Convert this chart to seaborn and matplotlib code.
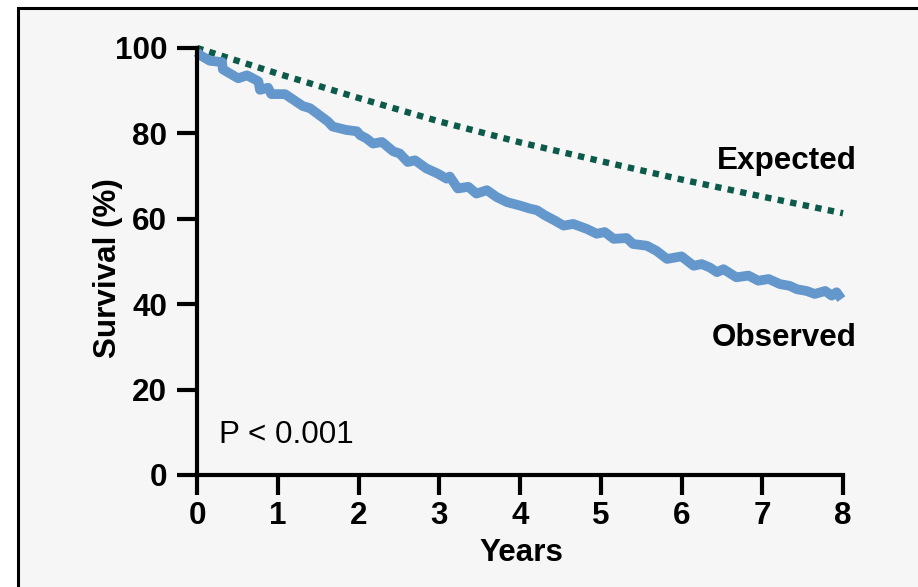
import matplotlib
matplotlib.use("Agg")
import matplotlib.pyplot as plt
import seaborn as sns
import pandas as pd
from matplotlib.patches import Rectangle

# ---- data ----
obs_years = [0.0, 0.04, 0.16, 0.31, 0.32, 0.51, 0.62, 0.76, 0.78, 0.88, 0.92, 1.09,
             1.31, 1.40, 1.62, 1.68, 1.85, 1.98, 2.02, 2.10, 2.18, 2.29, 2.43, 2.51,
             2.61, 2.70, 2.84, 2.98, 3.09, 3.13, 3.23, 3.36, 3.46, 3.59, 3.71, 3.84,
             4.00, 4.12, 4.21, 4.31, 4.43, 4.54, 4.66, 4.83, 4.95, 5.05, 5.16, 5.32,
             5.40, 5.57, 5.69, 5.82, 6.00, 6.15, 6.25, 6.35, 6.44, 6.52, 6.68, 6.83,
             6.95, 7.08, 7.22, 7.34, 7.43, 7.55, 7.65, 7.78, 7.86, 7.92, 7.98]
obs_surv = [99.0, 98.3, 97.0, 96.7, 95.0, 92.9, 93.6, 92.2, 90.2, 90.7, 89.2, 89.2,
            86.4, 85.9, 82.8, 81.6, 80.8, 80.5, 79.6, 78.8, 77.6, 78.0, 75.8, 75.3,
            73.3, 73.7, 71.8, 70.6, 69.4, 69.9, 67.1, 67.5, 65.9, 66.7, 65.1, 63.9,
            63.1, 62.4, 62.0, 60.8, 59.6, 58.4, 58.8, 57.6, 56.5, 56.9, 55.3, 55.5,
            54.1, 53.7, 52.5, 50.6, 51.2, 49.0, 49.4, 48.6, 47.5, 48.2, 46.3, 46.7,
            45.5, 45.9, 44.7, 44.3, 43.5, 43.1, 42.4, 43.1, 42.0, 42.8, 41.2]

exp_years = [0, 1, 2, 3, 4, 5, 6, 7, 8]
exp_surv = [100.0, 94.0, 88.3, 82.8, 77.9, 73.5, 69.2, 65.2, 61.3]

x_ticks = [0, 1, 2, 3, 4, 5, 6, 7, 8]
y_ticks = [0, 20, 40, 60, 80, 100]

obs_df = pd.DataFrame({"Years": obs_years, "Survival": obs_surv})
exp_df = pd.DataFrame({"Years": exp_years, "Survival": exp_surv})

# ---- style ----
sns.set_style("ticks")
plt.rcParams["font.family"] = ["Liberation Sans", "DejaVu Sans"]
plt.rcParams["text.color"] = "black"
plt.rcParams["xtick.color"] = "black"
plt.rcParams["ytick.color"] = "black"
plt.rcParams["axes.labelcolor"] = "black"

FS = 22.6
W, H = 918, 587
fig = plt.figure(figsize=(W / 100, H / 100), dpi=100)
fig.patch.set_facecolor("white")
bg = "#f6f6f6"
fig.patches.append(Rectangle((18 / W, -0.1), 1.2, 1 - 8 / H + 0.1, transform=fig.transFigure,
                             facecolor=bg, edgecolor="black", linewidth=2.2, zorder=-10))

ax = fig.add_axes([197 / W, 1 - 475 / H, (843 - 197) / W, (475 - 48) / H])
ax.set_facecolor("none")

sns.lineplot(data=exp_df, x="Years", y="Survival", ax=ax, color="#0B5A4A",
             linewidth=4.6, linestyle=(0, (1, 1)), dash_capstyle="butt", clip_on=False)
sns.lineplot(data=obs_df, x="Years", y="Survival", ax=ax, color="#6497CC",
             linewidth=7.0, solid_joinstyle="round", solid_capstyle="butt", clip_on=False)

ax.set_xlim(0, 8)
ax.set_ylim(0, 100)
ax.set_xticks(x_ticks)
ax.set_yticks(y_ticks)
ax.set_xticklabels([str(v) for v in x_ticks], fontsize=FS, fontweight="bold", color="black")
ax.set_yticklabels([str(v) for v in y_ticks], fontsize=FS, fontweight="bold", color="black")
ax.tick_params(axis="both", length=14.5, width=3, color="black", direction="out")
ax.tick_params(axis="x", pad=4)
ax.tick_params(axis="y", pad=7)
for s in ["top", "right"]:
    ax.spines[s].set_visible(False)
for s in ["left", "bottom"]:
    ax.spines[s].set_linewidth(3)
    ax.spines[s].set_color("black")
    ax.spines[s].set_capstyle("projecting")

ax.set_xlabel("")
ax.set_ylabel("")
fig.text(521 / W, 1 - 553 / H, "Years", fontsize=FS, fontweight="bold", ha="center", va="center")
fig.text(108 / W, 1 - 268 / H, "Survival (%)", fontsize=FS, fontweight="bold",
         ha="center", va="center", rotation=90)
fig.text(219 / W, 1 - 435 / H, "P < 0.001", fontsize=FS, ha="left", va="center")
fig.text(857 / W, 1 - 161 / H, "Expected", fontsize=FS, fontweight="bold", ha="right", va="center")
fig.text(857 / W, 1 - 338 / H, "Observed", fontsize=FS, fontweight="bold", ha="right", va="center")

fig.savefig("out.png", dpi=100, facecolor=fig.get_facecolor())
